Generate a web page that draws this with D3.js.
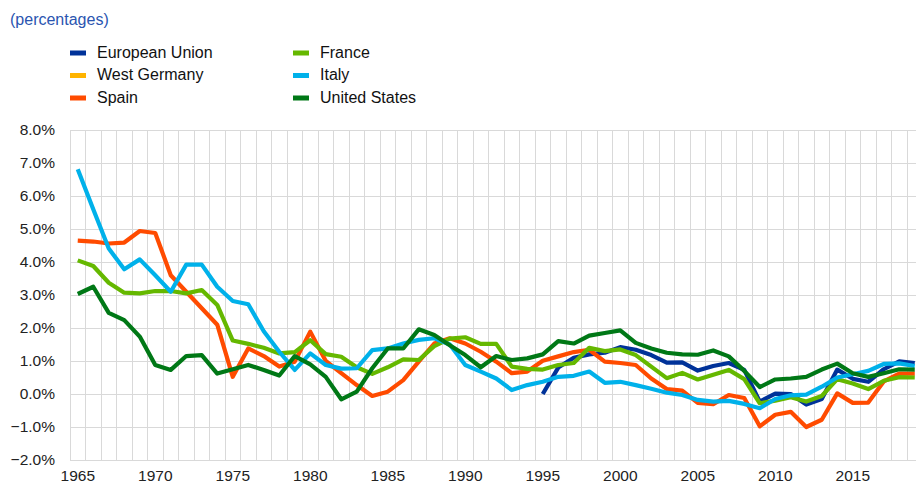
<!DOCTYPE html>
<html><head><meta charset="utf-8">
<script src="https://cdn.jsdelivr.net/npm/d3@7"></script>
<style>
html,body{margin:0;padding:0;background:#fff;overflow:hidden;}
text{font-family:"Liberation Sans",Arial,sans-serif;}
</style></head>
<body>
<svg id="chart" width="916" height="486"></svg>
<script>
const years = d3.range(1965, 2020);
const seriesNames = ["European Union","West Germany","Spain","France","Italy","United States"];
const seriesColors = ["#003299","#FFB400","#FF4B00","#65B800","#00B1EA","#007816"];
const yTicks = [-2,-1,0,1,2,3,4,5,6,7,8];
const xTickLabels = [1965,1970,1975,1980,1985,1990,1995,2000,2005,2010,2015];

const europeanUnion = [null,null,null,null,null,null,null,null,null,null,
  null,null,null,null,null,null,null,null,null,null,
  null,null,null,null,null,null,null,null,null,null,
  0.0,0.8,1.1,1.2,1.25,1.42,1.34,1.18,0.95,0.96,
  0.71,0.85,0.94,0.73,-0.23,0.01,0.0,-0.32,-0.15,0.74,
  0.46,0.37,0.75,0.99,0.94];
const westGermany = [];
const spain = [4.65,4.62,4.56,4.59,4.94,4.88,3.6,3.1,2.6,2.1,
  0.52,1.38,1.15,0.83,0.98,1.89,1.0,0.63,0.27,-0.06,
  0.07,0.42,0.98,1.53,1.69,1.53,1.28,0.98,0.63,0.68,
  1.01,1.14,1.27,1.34,0.98,0.94,0.88,0.47,0.15,0.1,
  -0.27,-0.31,-0.03,-0.12,-0.98,-0.63,-0.54,-1.0,-0.78,0.02,
  -0.27,-0.26,0.38,0.62,0.62];
const france = [4.05,3.88,3.37,3.07,3.05,3.12,3.12,3.05,3.15,2.7,
  1.62,1.52,1.4,1.23,1.27,1.63,1.21,1.13,0.81,0.61,
  0.81,1.05,1.03,1.45,1.68,1.72,1.52,1.52,0.83,0.76,
  0.74,0.88,0.94,1.4,1.3,1.35,1.18,0.83,0.48,0.64,
  0.44,0.58,0.73,0.45,-0.28,-0.2,-0.1,-0.23,-0.06,0.45,
  0.32,0.15,0.4,0.51,0.5];
const italy = [6.81,5.6,4.41,3.78,4.08,3.6,3.1,3.92,3.92,3.25,
  2.82,2.72,1.9,1.28,0.73,1.23,0.88,0.77,0.78,1.33,
  1.38,1.53,1.64,1.69,1.5,0.88,0.68,0.47,0.12,0.27,
  0.37,0.52,0.55,0.68,0.34,0.37,0.27,0.16,0.04,-0.03,
  -0.18,-0.23,-0.21,-0.3,-0.43,-0.15,-0.04,-0.02,0.22,0.5,
  0.6,0.7,0.91,0.93,0.85];
const unitedStates = [3.03,3.25,2.46,2.24,1.74,0.88,0.73,1.15,1.18,0.62,
  0.75,0.88,0.73,0.56,1.15,0.9,0.52,-0.16,0.07,0.78,
  1.38,1.38,1.96,1.79,1.48,1.18,0.81,1.15,1.03,1.08,
  1.2,1.6,1.53,1.77,1.85,1.93,1.55,1.38,1.25,1.2,
  1.19,1.32,1.14,0.7,0.21,0.44,0.47,0.52,0.74,0.92,
  0.63,0.52,0.63,0.75,0.74];

const seriesValues = [europeanUnion, westGermany, spain, france, italy, unitedStates];

const svg = d3.select("#chart");
const plotLeft = 70, plotTop = 130, plotBottom = 460;
const bandW = 15.5;
const plotRight = plotLeft + years.length * bandW;

const x = d3.scaleBand().domain(years).range([plotLeft, plotRight]).paddingInner(0).paddingOuter(0);
const y = d3.scaleLinear().domain([-2, 8]).range([plotBottom, plotTop]);
const cx = yr => x(yr) + x.bandwidth() / 2;

// title
svg.append("text").attr("x", 10).attr("y", 21).attr("dominant-baseline", "middle")
  .attr("font-size", "16px").attr("fill", "#2a55b0").text("(percentages)");

// legend
const legendPos = [[70,53],[70,75.5],[70,98],[293,53],[293,75.5],[293,98]];
seriesNames.forEach((name, i) => {
  const [lx, ly] = legendPos[i];
  svg.append("rect").attr("x", lx).attr("y", ly - 2.5).attr("width", 16).attr("height", 5)
    .attr("fill", seriesColors[i]);
  svg.append("text").attr("x", lx + 27).attr("y", ly + 0.5).attr("dominant-baseline", "middle")
    .attr("font-size", "16px").attr("fill", "#111").text(name);
});

// gridlines
const grid = svg.append("g").attr("stroke", "#d9d9d9").attr("stroke-width", 1).attr("shape-rendering", "crispEdges");
yTicks.forEach(t => {
  grid.append("line").attr("x1", plotLeft).attr("x2", plotRight).attr("y1", y(t)).attr("y2", y(t));
});
years.concat([2020]).forEach((yr, i) => {
  const xv = plotLeft + i * bandW;
  grid.append("line").attr("x1", xv).attr("x2", xv).attr("y1", plotTop).attr("y2", plotBottom);
});

// y axis labels
const yAxis = d3.axisLeft(y).tickValues(yTicks).tickSize(0).tickPadding(0)
  .tickFormat(d => d3.format(".1f")(d) + "%");
const ya = svg.append("g").attr("transform", `translate(55,0)`).call(yAxis);
ya.select(".domain").remove();
ya.selectAll("text").attr("font-size", "15.5px").attr("fill", "#222")
  .attr("font-family", '"Liberation Sans",Arial,sans-serif');

// x axis labels
const xAxis = d3.axisBottom(x).tickValues(xTickLabels).tickSize(0).tickPadding(0);
const xa = svg.append("g").attr("transform", `translate(0,470)`).call(xAxis);
xa.select(".domain").remove();
xa.selectAll("text").attr("font-size", "15.5px").attr("fill", "#222")
  .attr("font-family", '"Liberation Sans",Arial,sans-serif');

// lines
const line = d3.line().defined(d => d.v != null).x(d => cx(d.year)).y(d => y(d.v));
seriesValues.forEach((vals, i) => {
  if (!vals.length) return;
  const data = years.map((yr, j) => ({year: yr, v: vals[j] == null ? null : vals[j]}));
  svg.append("path").datum(data).attr("d", line).attr("fill", "none")
    .attr("stroke", seriesColors[i]).attr("stroke-width", 4.2)
    .attr("stroke-linejoin", "round").attr("stroke-linecap", "butt");
});
</script>
</body></html>
